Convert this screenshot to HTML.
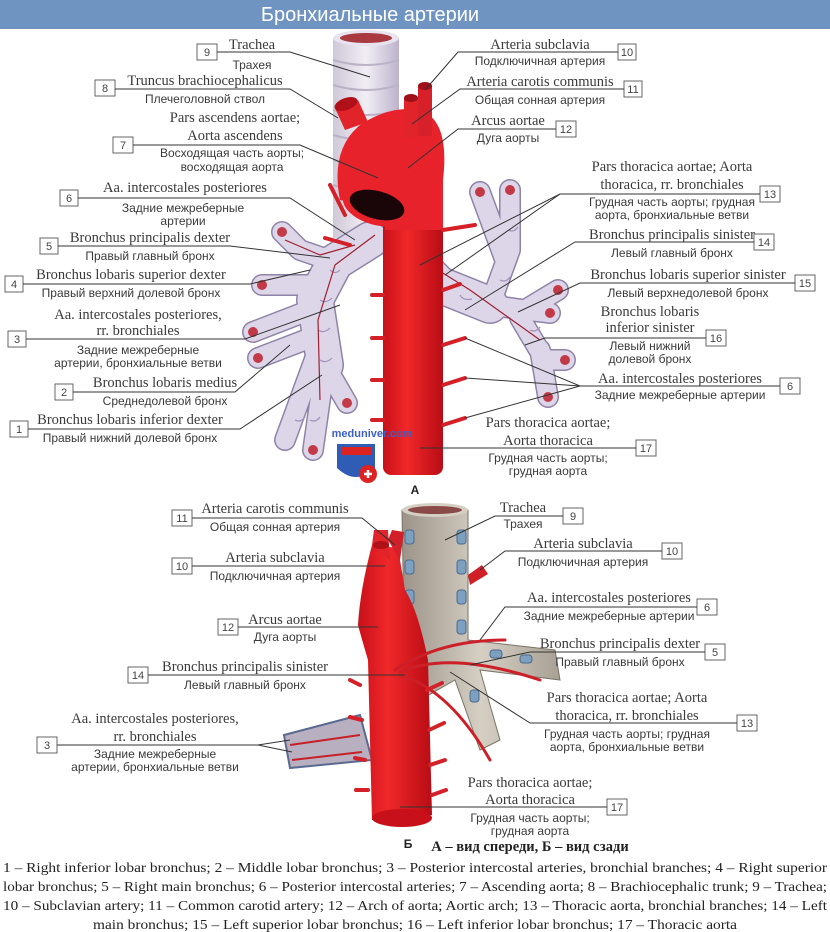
<!DOCTYPE html>
<html><head><meta charset="utf-8"><style>
html,body{margin:0;padding:0;background:#fff;width:830px;height:932px;overflow:hidden}
svg{display:block}
.l{font-family:"Liberation Serif",serif;font-size:14.5px;fill:#3a3a3a;text-anchor:middle}
.r{font-family:"Liberation Sans","Noto Sans CJK SC",sans-serif;font-size:12px;fill:#3a3a3a;text-anchor:middle}
.n{font-family:"Liberation Sans",sans-serif;font-size:11px;fill:#444;text-anchor:middle}
.b{fill:#fff;stroke:#666;stroke-width:1}
.ln{stroke:#333;stroke-width:1;fill:none}
.c{font-family:"Liberation Serif",serif;font-size:14px;fill:#222}
.bo{fill:none;stroke:#8f83a8;stroke-linecap:round;stroke-linejoin:round}
.bi{fill:none;stroke:#ddd6e8;stroke-linecap:round;stroke-linejoin:round}
</style></head><body>
<svg width="830" height="932" viewBox="0 0 830 932" xmlns="http://www.w3.org/2000/svg">
<defs>
<linearGradient id="ao" x1="0" x2="1"><stop offset="0" stop-color="#c8101a"/><stop offset=".4" stop-color="#f0282a"/><stop offset="1" stop-color="#b80c14"/></linearGradient>
<linearGradient id="tr" x1="0" x2="1"><stop offset="0" stop-color="#cfc8d8"/><stop offset=".5" stop-color="#f1eef5"/><stop offset="1" stop-color="#bdb3cc"/></linearGradient>
<linearGradient id="tb" x1="0" x2="1"><stop offset="0" stop-color="#9c9489"/><stop offset=".5" stop-color="#d6cfc4"/><stop offset="1" stop-color="#a8a094"/></linearGradient>
</defs>
<rect x="0" y="0" width="830" height="29" fill="#7094c2"/>
<text x="370" y="21" font-family="Liberation Sans,sans-serif" font-size="20" fill="#fff" text-anchor="middle">Бронхиальные артерии</text>

<rect x="333" y="38" width="66" height="200" fill="url(#tr)"/>
<ellipse cx="366" cy="38" rx="33" ry="8" fill="#e8e3ee"/>
<ellipse cx="366" cy="38" rx="26" ry="5" fill="#a83a40"/>
<g stroke="#bbb2c8" stroke-width="2" fill="none"><path d="M333 60 Q366 70 399 60"/><path d="M333 85 Q366 95 399 85"/><path d="M333 110 Q366 120 399 110"/><path d="M333 135 Q366 145 399 135"/><path d="M333 160 Q366 170 399 160"/><path d="M333 185 Q366 195 399 185"/></g>
<g>
<path class="bo" stroke-width="38" d="M370 240 L335 262 L315 300 L325 365"/>
<path class="bo" stroke-width="38" d="M395 240 L440 285 L490 305"/>
<path class="bo" stroke-width="22" d="M335 262 L300 250 L282 232 M315 285 L262 285 M310 310 L253 332 M318 335 L258 358 M325 365 L347 403 M325 365 L313 450 M318 350 L285 440 M490 305 L510 250 L510 190 M505 260 L480 192 M490 305 L525 310 L558 290 M525 310 L550 313 M520 318 L545 360 L565 360 M540 350 L548 397"/>
<path class="bi" stroke-width="35" d="M370 240 L335 262 L315 300 L325 365"/>
<path class="bi" stroke-width="35" d="M395 240 L440 285 L490 305"/>
<path class="bi" stroke-width="19" d="M335 262 L300 250 L282 232 M315 285 L262 285 M310 310 L253 332 M318 335 L258 358 M325 365 L347 403 M325 365 L313 450 M318 350 L285 440 M490 305 L510 250 L510 190 M505 260 L480 192 M490 305 L525 310 L558 290 M525 310 L550 313 M520 318 L545 360 L565 360 M540 350 L548 397"/>
<g stroke="#a290b8" stroke-width="1.2" fill="none"><path d="M330 270 q5 5 10 0 M320 300 q6 4 12 -2 M318 330 q6 4 12 -2 M320 360 q6 4 12 -2 M430 275 q4 6 12 4 M460 295 q3 6 12 4 M500 280 q6 3 10 -3 M508 230 q6 3 10 -3 M530 330 q6 3 10 -3 M295 420 q6 3 10 -3 M310 420 q6 3 10 -3"/></g>
<g fill="#c23a48"><circle cx="282" cy="232" r="5"/><circle cx="262" cy="285" r="5"/><circle cx="253" cy="332" r="5"/><circle cx="258" cy="358" r="5"/><circle cx="347" cy="403" r="5"/><circle cx="313" cy="450" r="5"/><circle cx="510" cy="190" r="5"/><circle cx="480" cy="192" r="5"/><circle cx="558" cy="290" r="5"/><circle cx="550" cy="313" r="5"/><circle cx="565" cy="360" r="5"/><circle cx="548" cy="397" r="5"/></g>
</g>
<g stroke="#a02030" stroke-width="1.2" fill="none">
<path d="M375 235 L335 265 L318 320 L320 400"/><path d="M390 240 L470 290 L540 340"/><path d="M355 245 L320 255 L285 240"/>
</g>
<rect x="383" y="165" width="60" height="310" rx="8" fill="url(#ao)"/>
<path d="M340 200 Q330 150 360 125 Q390 105 420 110 Q450 120 443 180 L443 230 L385 230 L385 210 Z" fill="#e8222a"/>
<path d="M345 130 L335 108 L358 100 L368 122 Z" fill="#e0242a"/>
<ellipse cx="346" cy="104" rx="12" ry="6" fill="#b01018" transform="rotate(-20 346 104)"/>
<rect x="404" y="98" width="14" height="40" fill="#e0242a"/>
<ellipse cx="411" cy="98" rx="7" ry="4" fill="#a01018"/>
<rect x="418" y="86" width="14" height="50" fill="#d8202a"/>
<ellipse cx="425" cy="86" rx="7" ry="4" fill="#a01018"/>
<ellipse cx="377" cy="205" rx="35" ry="20" fill="#e8222a" transform="rotate(15 377 205)"/>
<ellipse cx="377" cy="205" rx="28" ry="14" fill="#1a0608" transform="rotate(15 377 205)"/>
<g stroke="#d42028" stroke-width="4" stroke-linecap="round">
<line x1="383" y1="295" x2="372" y2="295"/><line x1="383" y1="338" x2="372" y2="338"/><line x1="383" y1="380" x2="372" y2="380"/><line x1="383" y1="420" x2="372" y2="420"/>
<line x1="443" y1="290" x2="460" y2="284"/><line x1="443" y1="345" x2="465" y2="338"/><line x1="443" y1="385" x2="465" y2="378"/><line x1="443" y1="425" x2="465" y2="418"/>
<line x1="443" y1="230" x2="475" y2="225"/><line x1="330" y1="185" x2="345" y2="215"/><line x1="325" y1="238" x2="350" y2="245"/>
</g>
<text x="372" y="437" font-family="Liberation Sans,sans-serif" font-size="11" font-weight="bold" fill="#3b5fc8" text-anchor="middle">meduniver.com</text>
<path d="M337 444 L375 444 L375 468 Q356 486 337 468 Z" fill="#2f5db5"/>
<path d="M341 447 L371 447 L371 455 L341 455 Z" fill="#d22"/>
<circle cx="368" cy="474" r="9" fill="#d22"/><path d="M364 474 h8 M368 470 v8" stroke="#fff" stroke-width="2.5"/>
<text x="415" y="494" font-family="Liberation Sans,sans-serif" font-size="12" font-weight="bold" fill="#222" text-anchor="middle">А</text>

<g>
<rect class="b" x="197" y="44" width="20" height="16"/><text class="n" x="207" y="56">9</text>
<text class="l" x="252" y="49">Trachea</text><text class="r" x="252" y="69">Трахея</text>
<polyline class="ln" points="217,52 290,52 370,77"/>
<rect class="b" x="95" y="80" width="20" height="16"/><text class="n" x="105" y="92">8</text>
<text class="l" x="205" y="85">Truncus brachiocephalicus</text><text class="r" x="205" y="103">Плечеголовной ствол</text>
<polyline class="ln" points="115,89 290,89 338,118"/>
<rect class="b" x="113" y="137" width="20" height="16"/><text class="n" x="123" y="149">7</text>
<text class="l" x="235" y="122">Pars ascendens aortae;</text><text class="l" x="235" y="140">Aorta ascendens</text>
<text class="r" x="232" y="157">Восходящая часть аорты;</text><text class="r" x="232" y="171">восходящая аорта</text>
<polyline class="ln" points="133,145 300,145 378,178"/>
<rect class="b" x="60" y="190" width="18" height="16"/><text class="n" x="69" y="202">6</text>
<text class="l" x="185" y="192">Aa. intercostales posteriores</text><text class="r" x="183" y="212">Задние межреберные</text><text class="r" x="183" y="225">артерии</text>
<polyline class="ln" points="78,198 290,198 355,240"/>
<rect class="b" x="40" y="238" width="18" height="16"/><text class="n" x="49" y="250">5</text>
<text class="l" x="150" y="242">Bronchus principalis dexter</text><text class="r" x="150" y="260">Правый главный бронх</text>
<polyline class="ln" points="58,246 230,246 330,258"/>
<rect class="b" x="5" y="276" width="18" height="16"/><text class="n" x="14" y="288">4</text>
<text class="l" x="131" y="279">Bronchus lobaris superior dexter</text><text class="r" x="131" y="297">Правый верхний долевой бронх</text>
<polyline class="ln" points="23,284 250,284 310,270"/>
<rect class="b" x="8" y="331" width="18" height="16"/><text class="n" x="17" y="343">3</text>
<text class="l" x="138" y="319">Aa. intercostales posteriores,</text><text class="l" x="138" y="335">rr. bronchiales</text>
<text class="r" x="138" y="354">Задние межреберные</text><text class="r" x="138" y="367">артерии, бронхиальные ветви</text>
<polyline class="ln" points="26,339 245,339 340,305"/>
<rect class="b" x="55" y="384" width="18" height="16"/><text class="n" x="64" y="396">2</text>
<text class="l" x="165" y="387">Bronchus lobaris medius</text><text class="r" x="165" y="405">Среднедолевой бронх</text>
<polyline class="ln" points="73,392 235,392 290,345"/>
<rect class="b" x="10" y="421" width="18" height="16"/><text class="n" x="19" y="433">1</text>
<text class="l" x="130" y="424">Bronchus lobaris inferior dexter</text><text class="r" x="130" y="442">Правый нижний долевой бронх</text>
<polyline class="ln" points="28,429 240,429 322,375"/>
</g>
<g>
<rect class="b" x="618" y="44" width="18" height="16"/><text class="n" x="627" y="56">10</text>
<text class="l" x="540" y="49">Arteria subclavia</text><text class="r" x="540" y="65">Подключичная артерия</text>
<polyline class="ln" points="618,52 458,52 425,90"/>
<rect class="b" x="624" y="81" width="18" height="16"/><text class="n" x="633" y="93">11</text>
<text class="l" x="540" y="86">Arteria carotis communis</text><text class="r" x="540" y="104">Общая сонная артерия</text>
<polyline class="ln" points="624,89 460,89 412,124"/>
<rect class="b" x="556" y="121" width="20" height="16"/><text class="n" x="566" y="133">12</text>
<text class="l" x="508" y="125">Arcus aortae</text><text class="r" x="508" y="142">Дуга аорты</text>
<polyline class="ln" points="556,129 458,129 408,168"/>
<rect class="b" x="760" y="186" width="20" height="16"/><text class="n" x="770" y="198">13</text>
<text class="l" x="672" y="171">Pars thoracica aortae; Aorta</text><text class="l" x="672" y="189">thoracica, rr. bronchiales</text>
<text class="r" x="672" y="206">Грудная часть аорты; грудная</text><text class="r" x="672" y="219">аорта, бронхиальные ветви</text>
<polyline class="ln" points="760,194 560,194 420,265"/><line class="ln" x1="560" y1="194" x2="445" y2="275"/>
<rect class="b" x="754" y="234" width="20" height="16"/><text class="n" x="764" y="246">14</text>
<text class="l" x="672" y="239">Bronchus principalis sinister</text><text class="r" x="672" y="257">Левый главный бронх</text>
<polyline class="ln" points="754,242 575,242 465,310"/>
<rect class="b" x="795" y="275" width="20" height="16"/><text class="n" x="805" y="287">15</text>
<text class="l" x="688" y="279">Bronchus lobaris superior sinister</text><text class="r" x="688" y="297">Левый верхнедолевой бронх</text>
<polyline class="ln" points="795,283 580,283 518,312"/>
<rect class="b" x="706" y="330" width="20" height="16"/><text class="n" x="716" y="342">16</text>
<text class="l" x="650" y="316">Bronchus lobaris</text><text class="l" x="650" y="332">inferior sinister</text>
<text class="r" x="650" y="350">Левый нижний</text><text class="r" x="650" y="363">долевой бронх</text>
<polyline class="ln" points="706,338 545,338 525,345"/>
<rect class="b" x="780" y="378" width="20" height="16"/><text class="n" x="790" y="390">6</text>
<text class="l" x="680" y="383">Aa. intercostales posteriores</text><text class="r" x="680" y="399">Задние межреберные артерии</text>
<polyline class="ln" points="780,386 580,386 465,338"/><line class="ln" x1="580" y1="386" x2="465" y2="378"/><line class="ln" x1="580" y1="386" x2="465" y2="418"/>
<rect class="b" x="636" y="440" width="20" height="16"/><text class="n" x="646" y="452">17</text>
<text class="l" x="548" y="427">Pars thoracica aortae;</text><text class="l" x="548" y="445">Aorta thoracica</text>
<text class="r" x="548" y="462">Грудная часть аорты;</text><text class="r" x="548" y="475">грудная аорта</text>
<polyline class="ln" points="636,448 420,448"/>
</g>

<path d="M402 510 L468 510 L468 640 L555 650 L560 680 L480 670 L500 740 L480 750 L455 680 L420 700 L405 690 Z" fill="url(#tb)" stroke="#7a7368"/>
<ellipse cx="435" cy="510" rx="33" ry="7" fill="#d6cfc4"/>
<ellipse cx="435" cy="510" rx="27" ry="4" fill="#8a4a48"/>
<g fill="#7d9fc0" stroke="#4c6b8c"><rect x="405" y="530" width="9" height="14" rx="3"/><rect x="405" y="560" width="9" height="14" rx="3"/><rect x="405" y="590" width="9" height="14" rx="3"/><rect x="405" y="620" width="9" height="14" rx="3"/><rect x="457" y="530" width="9" height="14" rx="3"/><rect x="457" y="560" width="9" height="14" rx="3"/><rect x="457" y="590" width="9" height="14" rx="3"/><rect x="457" y="620" width="9" height="14" rx="3"/><rect x="490" y="650" width="12" height="8" rx="3"/><rect x="520" y="655" width="12" height="8" rx="3"/><rect x="470" y="690" width="9" height="12" rx="3"/></g>
<path d="M284 735 L360 715 L372 760 L290 768 Z" fill="#b8b0c0" stroke="#5a6a90" stroke-width="2"/>
<line x1="290" y1="745" x2="360" y2="735" stroke="#c82028" stroke-width="2"/>
<line x1="292" y1="760" x2="362" y2="752" stroke="#c82028" stroke-width="2"/>
<path d="M372 545 Q360 590 358 625 Q362 640 368 660 L372 820 L432 815 L428 660 Q418 610 405 590 L398 548 Z" fill="url(#ao)"/>
<ellipse cx="402" cy="818" rx="30" ry="9" fill="#c8101a"/>
<path d="M372 545 L374 530 L388 530 L390 560 Z" fill="#e0242a"/>
<ellipse cx="381" cy="545" rx="8" ry="4" fill="#b01018"/>
<path d="M388 540 L392 530 L404 532 L400 560 Z" fill="#d22028"/>
<path d="M468 575 L482 565 L488 574 L470 585 Z" fill="#d22028"/>
<g stroke="#cc1f28" stroke-width="3" fill="none" stroke-linecap="round">
<path d="M395 670 Q440 640 505 640"/><path d="M400 672 Q450 650 540 680"/><path d="M400 675 Q450 690 490 760"/>
</g>
<g stroke="#d42028" stroke-width="4" stroke-linecap="round">
<line x1="360" y1="685" x2="350" y2="680"/><line x1="362" y1="720" x2="350" y2="717"/><line x1="365" y1="760" x2="355" y2="758"/><line x1="368" y1="790" x2="356" y2="790"/>
<line x1="427" y1="690" x2="442" y2="683"/><line x1="429" y1="730" x2="444" y2="723"/><line x1="430" y1="765" x2="445" y2="760"/><line x1="432" y1="795" x2="446" y2="790"/>
</g>
<text x="408" y="848" font-family="Liberation Sans,sans-serif" font-size="12" font-weight="bold" fill="#222" text-anchor="middle">Б</text>
<text x="530" y="851" font-family="Liberation Serif,serif" font-size="14.5" font-weight="bold" fill="#222" text-anchor="middle">А – вид спереди, Б – вид сзади</text>

<g>
<rect class="b" x="172" y="510" width="20" height="16"/><text class="n" x="182" y="522">11</text>
<text class="l" x="275" y="513">Arteria carotis communis</text><text class="r" x="275" y="531">Общая сонная артерия</text>
<polyline class="ln" points="192,518 362,518 395,545"/>
<rect class="b" x="172" y="558" width="20" height="16"/><text class="n" x="182" y="570">10</text>
<text class="l" x="275" y="562">Arteria subclavia</text><text class="r" x="275" y="580">Подключичная артерия</text>
<polyline class="ln" points="192,566 385,566"/>
<rect class="b" x="218" y="619" width="20" height="16"/><text class="n" x="228" y="631">12</text>
<text class="l" x="285" y="624">Arcus aortae</text><text class="r" x="285" y="641">Дуга аорты</text>
<polyline class="ln" points="238,627 378,627"/>
<rect class="b" x="128" y="667" width="20" height="16"/><text class="n" x="138" y="679">14</text>
<text class="l" x="245" y="671">Bronchus principalis sinister</text><text class="r" x="245" y="689">Левый главный бронх</text>
<polyline class="ln" points="148,675 405,675"/>
<rect class="b" x="37" y="737" width="20" height="16"/><text class="n" x="47" y="749">3</text>
<text class="l" x="155" y="723">Aa. intercostales posteriores,</text><text class="l" x="155" y="741">rr. bronchiales</text>
<text class="r" x="155" y="758">Задние межреберные</text><text class="r" x="155" y="771">артерии, бронхиальные ветви</text>
<polyline class="ln" points="57,745 258,745 290,740"/><line class="ln" x1="258" y1="745" x2="292" y2="752"/>
<rect class="b" x="563" y="508" width="20" height="16"/><text class="n" x="573" y="520">9</text>
<text class="l" x="523" y="512">Trachea</text><text class="r" x="523" y="528">Трахея</text>
<polyline class="ln" points="563,516 495,516 445,540"/>
<rect class="b" x="662" y="543" width="20" height="16"/><text class="n" x="672" y="555">10</text>
<text class="l" x="583" y="548">Arteria subclavia</text><text class="r" x="583" y="566">Подключичная артерия</text>
<polyline class="ln" points="662,551 505,551 480,570"/>
<rect class="b" x="697" y="599" width="20" height="16"/><text class="n" x="707" y="611">6</text>
<text class="l" x="609" y="602">Aa. intercostales posteriores</text><text class="r" x="609" y="620">Задние межреберные артерии</text>
<polyline class="ln" points="697,607 505,607 480,640"/>
<rect class="b" x="705" y="644" width="20" height="16"/><text class="n" x="715" y="656">5</text>
<text class="l" x="620" y="648">Bronchus principalis dexter</text><text class="r" x="620" y="666">Правый главный бронх</text>
<polyline class="ln" points="705,652 530,652 470,665"/>
<rect class="b" x="737" y="715" width="20" height="16"/><text class="n" x="747" y="727">13</text>
<text class="l" x="627" y="702">Pars thoracica aortae; Aorta</text><text class="l" x="627" y="720">thoracica, rr. bronchiales</text>
<text class="r" x="627" y="738">Грудная часть аорты; грудная</text><text class="r" x="627" y="751">аорта, бронхиальные ветви</text>
<polyline class="ln" points="737,723 530,723 450,672"/>
<rect class="b" x="607" y="799" width="20" height="16"/><text class="n" x="617" y="811">17</text>
<text class="l" x="530" y="787">Pars thoracica aortae;</text><text class="l" x="530" y="804">Aorta thoracica</text>
<text class="r" x="530" y="822">Грудная часть аорты;</text><text class="r" x="530" y="835">грудная аорта</text>
<polyline class="ln" points="607,807 400,807"/>
</g>

<text class="c" x="3" y="872" textLength="824" lengthAdjust="spacingAndGlyphs">1 – Right inferior lobar bronchus; 2 – Middle lobar bronchus; 3 – Posterior intercostal arteries, bronchial branches; 4 – Right superior</text>
<text class="c" x="3" y="891" textLength="824" lengthAdjust="spacingAndGlyphs">lobar bronchus; 5 – Right main bronchus; 6 – Posterior intercostal arteries; 7 – Ascending aorta; 8 – Brachiocephalic trunk; 9 – Trachea;</text>
<text class="c" x="3" y="910" textLength="824" lengthAdjust="spacingAndGlyphs">10 – Subclavian artery; 11 – Common carotid artery; 12 – Arch of aorta; Aortic arch; 13 – Thoracic aorta, bronchial branches; 14 – Left</text>
<text class="c" x="93" y="929" textLength="644" lengthAdjust="spacingAndGlyphs">main bronchus; 15 – Left superior lobar bronchus; 16 – Left inferior lobar bronchus; 17 – Thoracic aorta</text>
</svg>
</body></html>
